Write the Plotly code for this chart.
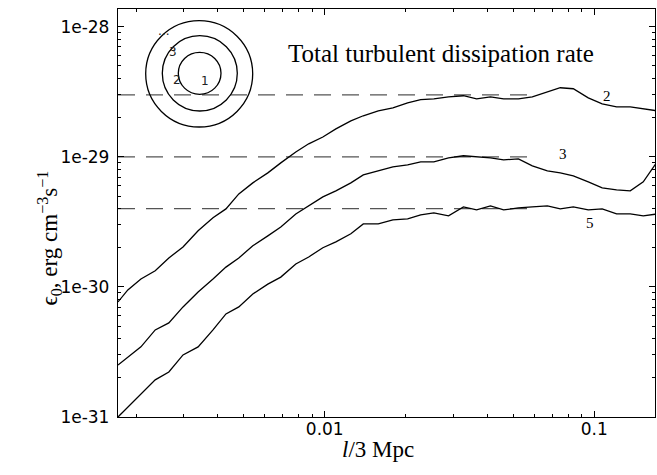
import plotly.graph_objects as go
import math

# ---- data ----
scale_l = [0.00171, 0.00186, 0.00208, 0.00235, 0.00264, 0.00298, 0.00339, 0.00385,
           0.00430, 0.00480, 0.00541, 0.00615, 0.00687, 0.00781, 0.00872, 0.00984,
           0.0110, 0.0125, 0.0139, 0.0158, 0.0179, 0.0203, 0.0227, 0.0254,
           0.0288, 0.0327, 0.0366, 0.0412, 0.0461, 0.0523, 0.0589, 0.0670,
           0.0748, 0.0836, 0.0950, 0.107, 0.121, 0.136, 0.152, 0.171]

eps_r2 = [7.67e-31, 9.48e-31, 1.15e-30, 1.33e-30, 1.67e-30, 2.03e-30, 2.70e-30, 3.40e-30,
          3.98e-30, 5.19e-30, 6.31e-30, 7.53e-30, 8.99e-30, 1.09e-29, 1.26e-29, 1.42e-29,
          1.64e-29, 1.89e-29, 2.07e-29, 2.26e-29, 2.38e-29, 2.60e-29, 2.75e-29, 2.79e-29,
          2.89e-29, 2.95e-29, 2.79e-29, 2.89e-29, 2.79e-29, 2.79e-29, 2.89e-29, 3.16e-29,
          3.40e-29, 3.34e-29, 2.84e-29, 2.56e-29, 2.42e-29, 2.42e-29, 2.34e-29, 2.26e-29]

eps_r3 = [2.51e-31, 2.89e-31, 3.46e-31, 4.67e-31, 5.29e-31, 7.02e-31, 9.15e-31, 1.15e-30,
          1.42e-30, 1.67e-30, 2.07e-30, 2.47e-30, 2.89e-30, 3.64e-30, 4.20e-30, 4.92e-30,
          5.48e-30, 6.31e-30, 7.27e-30, 7.80e-30, 8.38e-30, 8.68e-30, 9.15e-30, 9.15e-30,
          9.82e-30, 1.02e-29, 1.00e-29, 9.82e-30, 9.48e-30, 9.65e-30, 8.53e-30, 7.80e-30,
          7.53e-30, 7.14e-30, 6.42e-30, 5.77e-30, 5.57e-30, 5.48e-30, 6.42e-30, 9.15e-30]

eps_r5 = [1.00e-31, 1.19e-31, 1.48e-31, 1.93e-31, 2.22e-31, 3.00e-31, 3.46e-31, 4.67e-31,
          6.20e-31, 7.02e-31, 8.83e-31, 1.05e-30, 1.19e-30, 1.50e-30, 1.70e-30, 2.00e-30,
          2.22e-30, 2.56e-30, 3.05e-30, 3.05e-30, 3.28e-30, 3.34e-30, 3.58e-30, 3.71e-30,
          3.52e-30, 4.12e-30, 3.91e-30, 4.20e-30, 3.91e-30, 4.05e-30, 4.12e-30, 4.20e-30,
          3.98e-30, 4.12e-30, 3.91e-30, 3.98e-30, 3.64e-30, 3.64e-30, 3.52e-30, 3.64e-30]

curve_names = ["2", "3", "5"]
ref_levels = [3e-29, 1e-29, 4e-30]
ref_extent = [0.00171, 0.0565]

x_range = [0.00171, 0.168]
y_range = [1e-31, 1.37e-28]
y_tickvals = [1e-31, 1e-30, 1e-29, 1e-28]
y_ticktext = ["1e-31", "1e-30", "1e-29", "1e-28"]
x_tickvals = [0.01, 0.1]
x_ticktext = ["0.01", "0.1"]

fig = go.Figure()

for lvl in ref_levels:
    fig.add_trace(go.Scatter(x=ref_extent, y=[lvl, lvl], mode="lines",
                             line=dict(color="#555555", width=1.2, dash="17px,11px"),
                             showlegend=False, hoverinfo="skip"))

for name, ys in zip(curve_names, [eps_r2, eps_r3, eps_r5]):
    fig.add_trace(go.Scatter(x=scale_l, y=ys, mode="lines", name=name,
                             line=dict(color="black", width=1.3),
                             showlegend=False))

L, R, T, B = 118, 2, 9, 58
W, H = 657, 475
pw, ph = W - L - R, H - T - B


def px(xp):
    return (xp - L) / pw


def py(yp):
    return (H - B - yp) / ph


x_minor = [m * 10 ** e for e in (-3, -2, -1) for m in range(2, 10)]
x_minor = [v for v in x_minor if x_range[0] <= v <= x_range[1]]
y_minor = [m * 10 ** e for e in (-31, -30, -29, -28) for m in range(2, 10)]
y_minor = [v for v in y_minor if y_range[0] <= v <= y_range[1]]

axis_common = dict(showline=True, linecolor="black", linewidth=1.3, mirror="allticks",
                   ticks="inside", ticklen=6, tickwidth=1, tickcolor="black",
                   showgrid=False, zeroline=False,
                   tickfont=dict(family="DejaVu Sans", size=17, color="black"))

fig.update_xaxes(type="log", range=[math.log10(x_range[0]), math.log10(x_range[1])],
                 tickmode="array", tickvals=x_tickvals, ticktext=x_ticktext,
                 minor=dict(tickmode="array", tickvals=x_minor, ticks="inside",
                            ticklen=3, tickcolor="black", showgrid=False),
                 ticklabelstandoff=-4,
                 **axis_common)
fig.update_yaxes(type="log", range=[math.log10(y_range[0]), math.log10(y_range[1])],
                 tickmode="array", tickvals=y_tickvals, ticktext=y_ticktext,
                 minor=dict(tickmode="array", tickvals=y_minor, ticks="inside",
                            ticklen=3, tickcolor="black", showgrid=False),
                 ticklabelstandoff=4,
                 **axis_common)

# inset: concentric circles
circles = [(178.3, 221.0, 52.3, 94.3), (162.3, 237.3, 35.7, 111.0), (145.7, 252.7, 20.7, 127.0)]
for x0, x1, y0, y1 in circles:
    fig.add_shape(type="circle", xref="paper", yref="paper",
                  x0=px(x0), x1=px(x1), y0=py(y1), y1=py(y0),
                  line=dict(color="black", width=1.3))

ann = []
serif = "Liberation Serif"
for txt, xx, yy in [("1", 199, 72), ("2", 171, 71), ("3", 167, 43), ("...", 156, 22)]:
    ann.append(dict(text=txt, x=px(xx), y=py(yy), xref="paper", yref="paper",
                    showarrow=False, font=dict(family="DejaVu Sans", size=12, color="#222222")))
for txt, xx, yy in [("2", 613, 86), ("3", 569, 154), ("5", 596, 223)]:
    ann.append(dict(text=txt, x=px(xx), y=py(yy), xref="paper", yref="paper",
                    showarrow=False, font=dict(family=serif, size=15, color="black")))
ann.append(dict(text="Total turbulent dissipation rate", x=px(441), y=py(38),
                xref="paper", yref="paper", showarrow=False,
                font=dict(family=serif, size=25, color="black")))
ann.append(dict(text="<i>l</i>/3 Mpc", x=px(378), y=py(464),
                xref="paper", yref="paper", showarrow=False,
                font=dict(family=serif, size=23, color="black")))
ann.append(dict(text="ϵ<sub>0</sub>, erg cm<sup>−3</sup>s<sup>−1</sup>", x=px(31), y=py(238),
                xref="paper", yref="paper", showarrow=False, textangle=-90,
                font=dict(family=serif, size=23, color="black")))

fig.update_layout(width=W, height=H, margin=dict(l=L, r=R, t=T, b=B),
                  paper_bgcolor="white", plot_bgcolor="white",
                  annotations=ann, showlegend=False)

fig.write_html("out.html", config={"displayModeBar": False},
               post_script="document.body.style.margin='0';document.body.style.overflow='hidden';")
